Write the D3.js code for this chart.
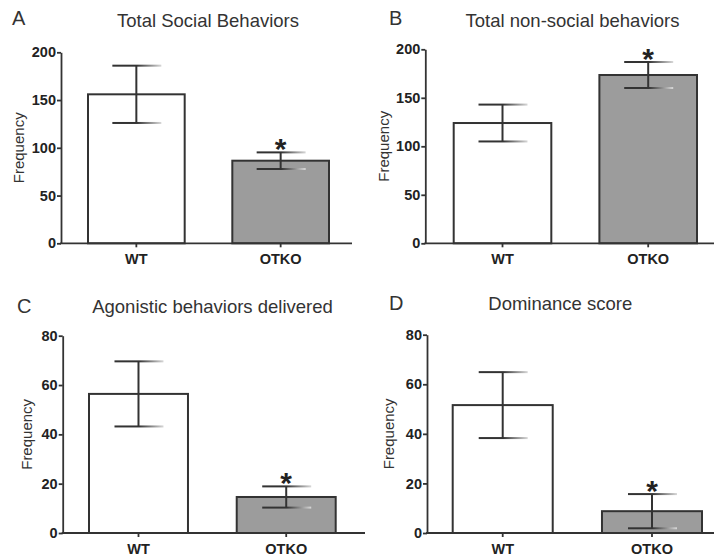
<!DOCTYPE html>
<html>
<head>
<meta charset="UTF-8">
<title>OTKO behaviors</title>
<script src="https://d3js.org/d3.v7.min.js"></script>
<style>
  body { margin: 0; background: #fff; }
  svg { display: block; font-family: Arial, "Liberation Sans", sans-serif; }
</style>
</head>
<body>
<svg id="chart" width="714" height="556"></svg>
<script>
// data
var groups = ["WT", "OTKO"];
var panelLetters = ["A", "B", "C", "D"];
var panelTitles = ["Total Social Behaviors", "Total non-social behaviors", "Agonistic behaviors delivered", "Dominance score"];
var meanValues = [[156, 86.5], [124, 173.5], [56.4, 14.6], [51.6, 8.8]];
var semValues = [[30, 8.7], [19, 13.4], [13.2, 4.3], [13.3, 6.9]];
var yMaxValues = [200, 200, 80, 80];
var yTickValues = [[0, 50, 100, 150, 200], [0, 50, 100, 150, 200], [0, 20, 40, 60, 80], [0, 20, 40, 60, 80]];
var starGroups = ["OTKO", "OTKO", "OTKO", "OTKO"];
var yLabel = "Frequency";

var ink = "#333";
var fills = { "WT": "#ffffff", "OTKO": "#9c9c9c" };

// where each panel sits
var layout = [
  { ax: 61,    y0: 243.3, yTop: 52.3,  x1: 352, b0: 88,    b1: 329,   titleX: 208,   titleY: 27,  letterX: 12,  letterY: 25,  freqX: 24 },
  { ax: 425.3, y0: 243.3, yTop: 49.3,  x1: 714, b0: 453.7, b1: 697,   titleX: 572.5, titleY: 27,  letterX: 389, letterY: 25,  freqX: 389 },
  { ax: 62.7,  y0: 533,   yTop: 335.7, x1: 365, b0: 89,    b1: 335.7, titleX: 212.5, titleY: 313, letterX: 17,  letterY: 313, freqX: 31.5 },
  { ax: 427,   y0: 533,   yTop: 334.7, x1: 714, b0: 452.7, b1: 702,   titleX: 560.3, titleY: 310, letterX: 389, letterY: 310, freqX: 394 }
];

var svg = d3.select("#chart");

// fading cap gradient
var grad = svg.append("defs").append("linearGradient")
    .attr("id", "capFade")
    .attr("x1", "0%").attr("x2", "100%").attr("y1", "0%").attr("y2", "0%");
grad.append("stop").attr("offset", "0%").attr("stop-color", ink);
grad.append("stop").attr("offset", "50%").attr("stop-color", ink);
grad.append("stop").attr("offset", "100%").attr("stop-color", "#d8d8d8");

layout.forEach(function(L, p) {
  var g = svg.append("g");

  var y = d3.scaleLinear()
      .domain([0, yMaxValues[p]])
      .range([L.y0, L.yTop]);

  var x = d3.scaleBand()
      .domain(groups)
      .range([L.b0, L.b1])
      .paddingInner(0.33)
      .paddingOuter(0);

  var rows = groups.map(function(k, i) {
    return { group: k, mean: meanValues[p][i], sem: semValues[p][i] };
  });

  // bars
  g.selectAll("rect.bar")
    .data(rows)
    .enter().append("rect")
      .attr("class", "bar")
      .attr("x", function(d) { return x(d.group); })
      .attr("y", function(d) { return y(d.mean); })
      .attr("width", x.bandwidth())
      .attr("height", function(d) { return L.y0 - y(d.mean); })
      .style("fill", function(d) { return fills[d.group]; })
      .style("stroke", ink)
      .style("stroke-width", 2);

  // error bars
  var cx = function(d) { return x(d.group) + x.bandwidth() / 2; };
  g.selectAll("line.err")
    .data(rows)
    .enter().append("line")
      .attr("x1", cx).attr("x2", cx)
      .attr("y1", function(d) { return y(d.mean + d.sem); })
      .attr("y2", function(d) { return y(d.mean - d.sem); })
      .style("stroke", ink)
      .style("stroke-width", 2);

  rows.forEach(function(d) {
    [d.mean + d.sem, d.mean - d.sem].forEach(function(v) {
      g.append("rect")
        .attr("x", cx(d) - 24)
        .attr("y", y(v) - 1)
        .attr("width", 49)
        .attr("height", 2)
        .style("fill", "url(#capFade)");
    });
  });

  // significance star
  var si = groups.indexOf(starGroups[p]);
  var sd = rows[si];
  g.append("text")
    .attr("x", cx(sd))
    .attr("y", y(sd.mean + sd.sem) + 7)
    .attr("text-anchor", "middle")
    .style("font-size", "30px")
    .style("font-weight", "bold")
    .style("fill", "#222")
    .text("*");

  // y axis
  var yAxis = g.append("g")
    .attr("transform", "translate(" + L.ax + ",0)")
    .call(d3.axisLeft(y).tickValues(yTickValues[p]).tickSize(4).tickSizeOuter(0).tickPadding(1));
  yAxis.select(".domain").style("stroke", ink).style("stroke-width", 1.8);
  yAxis.selectAll(".tick line").style("stroke", ink).style("stroke-width", 1.8);
  yAxis.selectAll(".tick text")
    .style("font-family", "Arial, 'Liberation Sans', sans-serif")
    .style("font-size", "14.5px")
    .style("font-weight", "bold")
    .style("fill", "#222");

  // x axis: baseline runs from y axis to the panel edge
  g.append("line")
    .attr("x1", L.ax - 1).attr("x2", L.x1)
    .attr("y1", L.y0).attr("y2", L.y0)
    .style("stroke", ink)
    .style("stroke-width", 1.8);

  var xAxis = g.append("g")
    .attr("transform", "translate(0," + L.y0 + ")")
    .call(d3.axisBottom(x).tickSize(4).tickSizeOuter(0).tickPadding(6));
  xAxis.select(".domain").remove();
  xAxis.selectAll(".tick line").style("stroke", ink).style("stroke-width", 1.8);
  xAxis.selectAll(".tick text")
    .attr("dy", null)
    .attr("y", 20.5)
    .style("font-family", "Arial, 'Liberation Sans', sans-serif")
    .style("font-size", "14.5px")
    .style("font-weight", "bold")
    .style("fill", "#222");

  // y label
  g.append("text")
    .attr("transform", "translate(" + L.freqX + "," + ((L.y0 + L.yTop) / 2) + ") rotate(-90)")
    .attr("text-anchor", "middle")
    .style("font-size", "15px")
    .style("fill", "#333")
    .text(yLabel);

  // title and panel letter
  g.append("text")
    .attr("x", L.titleX)
    .attr("y", L.titleY)
    .attr("text-anchor", "middle")
    .style("font-size", "18.5px")
    .style("fill", "#333")
    .text(panelTitles[p]);

  g.append("text")
    .attr("x", L.letterX)
    .attr("y", L.letterY)
    .style("font-size", "20px")
    .style("fill", "#333")
    .text(panelLetters[p]);
});
</script>
</body>
</html>
